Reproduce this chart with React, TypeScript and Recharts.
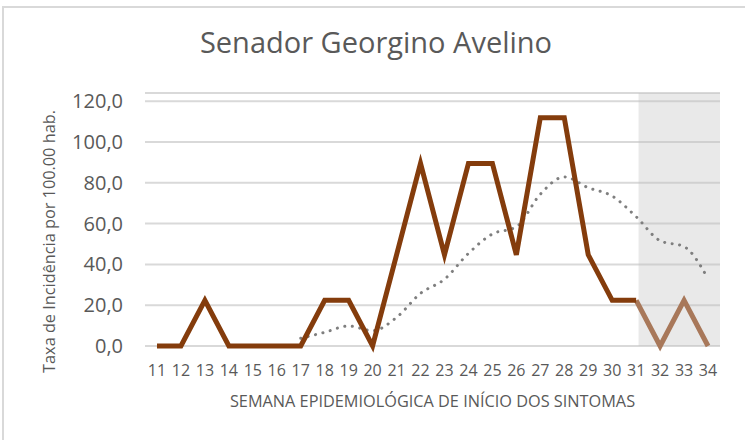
import { LineChart, Line, XAxis, YAxis, CartesianGrid, ReferenceArea } from 'recharts';

const weeks = [11, 12, 13, 14, 15, 16, 17, 18, 19, 20, 21, 22, 23, 24, 25, 26, 27, 28, 29, 30, 31, 32, 33, 34];
// taxa de incidência por semana (semanas 11-34)
const taxa = [0, 0, 22.4, 0, 0, 0, 0, 22.4, 22.4, 0, 44.7, 89.5, 44.7, 89.5, 89.5, 44.7, 111.9, 111.9, 44.7, 22.4, 22.4, 0, 22.4, 0];
// tendência (linha pontilhada), começa na semana 17
const tendencia = [null, null, null, null, null, null, 3.8, 6.7, 9.8, 7.5, 14, 25.8, 32.7, 45.4, 54.9, 58.4, 74.4, 82.9, 77.6, 73.5, 63.4, 51.6, 48.7, 33];
const yTicks = [0, 20, 40, 60, 80, 100, 120];
// período em aberto (sombreado)
const shadeFrom = 31.1;
const shadeTo = 34.5;
const yMax = 124;
const lastClosedWeek = 31;

const data = weeks.map((w, i) => ({
  week: w,
  taxa: w <= lastClosedWeek ? taxa[i] : null,
  parcial: w >= lastClosedWeek ? taxa[i] : null,
  tendencia: tendencia[i],
}));

const textColor = '#595959';
const fmt = (v: number) => v.toFixed(1).replace('.', ',');

function YLabel(props: any) {
  const vb = props.viewBox;
  const cx = vb.x + 49;
  const cy = vb.y + vb.height / 2 + 22;
  return (
    <text x={cx} y={cy} transform={`rotate(-90 ${cx} ${cy})`} textAnchor="middle" dominantBaseline="central"
      fill={textColor} fontSize={16.3} fontFamily="Open Sans">
      Taxa de Incidência por 100.00 hab.
    </text>
  );
}

function XLabel(props: any) {
  const vb = props.viewBox;
  const cx = vb.x + vb.width / 2;
  return (
    <text x={cx} y={vb.y + 55} textAnchor="middle" dominantBaseline="central"
      fill={textColor} fontSize={16.3} fontFamily="Open Sans">
      SEMANA EPIDEMIOLÓGICA DE INÍCIO DOS SINTOMAS
    </text>
  );
}

export default function App() {
  return (
    <div style={{ position: 'absolute', left: 0, top: 0, width: 745, height: 440, background: '#fff', overflow: 'hidden', fontFamily: 'Open Sans' }}>
      <div style={{ position: 'absolute', left: 2, top: 6, width: 800, height: 500, border: '2px solid #d9d9d9' }} />
      <div style={{ position: 'absolute', left: 0, top: 28, width: 752, textAlign: 'center', fontSize: 29, lineHeight: '28px', color: textColor }}>
        Senador Georgino Avelino
      </div>
      <div style={{ position: 'absolute', left: 0, top: 0 }}>
        <LineChart width={745} height={440} data={data} margin={{ top: 93, right: 25, left: 0, bottom: 20 }}>
          <ReferenceArea x1={shadeFrom} x2={shadeTo} y1={0} y2={yMax} fill="#bfbfbf" fillOpacity={0.35} stroke="none" />
          <CartesianGrid vertical={false} stroke="#d9d9d9" strokeWidth={2} />
          <XAxis
            dataKey="week"
            type="number"
            domain={[10.5, 34.5]}
            ticks={weeks}
            interval={0}
            axisLine={false}
            tickLine={false}
            tickMargin={13}
            height={74}
            tick={{ fontSize: 16, fill: textColor, fontFamily: 'Open Sans' }}
            label={<XLabel />}
          />
          <YAxis
            type="number"
            domain={[0, yMax]}
            ticks={yTicks}
            width={145}
            axisLine={false}
            tickLine={false}
            tickMargin={16}
            tickFormatter={fmt}
            tick={{ fontSize: 20, fill: textColor, fontFamily: 'Open Sans' }}
            label={<YLabel />}
          />
          <Line type="monotone" dataKey="tendencia" stroke="#7f7f7f" strokeWidth={3} strokeDasharray="0.1 7.5" strokeLinecap="round" dot={false} isAnimationActive={false} connectNulls={false} />
          <Line type="linear" dataKey="parcial" stroke="#a8785a" strokeWidth={5} dot={false} isAnimationActive={false} />
          <Line type="linear" dataKey="taxa" stroke="#843c0c" strokeWidth={5} dot={false} isAnimationActive={false} />
        </LineChart>
      </div>
    </div>
  );
}
